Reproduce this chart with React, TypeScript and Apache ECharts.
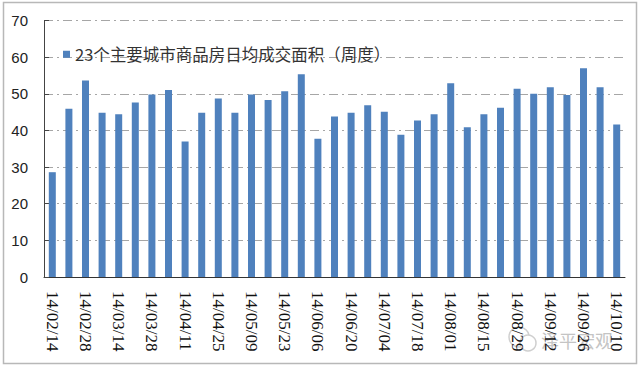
import React, { useEffect, useRef } from "react";
import * as echarts from "echarts";

const categories = [
  "14/02/14", "14/02/21", "14/02/28", "14/03/07", "14/03/14", "14/03/21", "14/03/28",
  "14/04/04", "14/04/11", "14/04/18", "14/04/25", "14/05/02", "14/05/09", "14/05/16",
  "14/05/23", "14/05/30", "14/06/06", "14/06/13", "14/06/20", "14/06/27", "14/07/04",
  "14/07/11", "14/07/18", "14/07/25", "14/08/01", "14/08/08", "14/08/15", "14/08/22",
  "14/08/29", "14/09/05", "14/09/12", "14/09/19", "14/09/26", "14/10/03", "14/10/10",
];

const seriesName = "23个主要城市商品房日均成交面积（周度）";
const values = [
  28.6, 45.9, 53.6, 44.8, 44.4, 47.6, 49.8, 51.0, 37.0, 44.8, 48.7, 44.8, 49.8, 48.3,
  50.7, 55.3, 37.7, 43.8, 44.8, 46.9, 45.1, 38.8, 42.7, 44.4, 52.9, 40.9, 44.4, 46.2,
  51.4, 50.0, 51.8, 49.7, 57.0, 51.8, 41.6,
];

const yTicks = { min: 0, max: 70, interval: 10 };
const watermark = "泽平宏观";

export default function App() {
  const ref = useRef<HTMLDivElement>(null);
  useEffect(() => {
    if (!ref.current) return;
    const chart = echarts.init(ref.current, null, { renderer: "svg" });
    chart.setOption({
      animation: false,
      backgroundColor: "#ffffff",
      grid: { left: 44, right: 15, top: 20.5, bottom: 93, containLabel: false },
      legend: {
        left: 58,
        top: 41,
        itemWidth: 7,
        itemHeight: 7,
        itemGap: 6,
        icon: "rect",
        textStyle: { fontFamily: "Noto Sans CJK SC", fontSize: 16.5, color: "#333" },
        data: [seriesName],
      },
      xAxis: {
        type: "category",
        data: categories,
        boundaryGap: true,
        axisLine: { lineStyle: { color: "#333", width: 1 } },
        axisTick: {
          inside: true,
          length: 5,
          interval: (i: number) => i % 2 === 1,
          lineStyle: { color: "#333" },
        },
        axisLabel: {
          interval: (i: number) => i % 2 === 0,
          rotate: -90,
          margin: 14,
          fontFamily: "Liberation Serif",
          fontSize: 17,
          color: "#111",
        },
        splitLine: { show: false },
      },
      yAxis: {
        type: "value",
        min: yTicks.min,
        max: yTicks.max,
        interval: yTicks.interval,
        axisLine: { show: true, lineStyle: { color: "#444" } },
        axisTick: { show: true, inside: true, length: 5, lineStyle: { color: "#444" } },
        axisLabel: {
          margin: 16,
          fontFamily: "Liberation Sans",
          fontSize: 15,
          color: "#222",
        },
        splitLine: {
          show: true,
          lineStyle: { color: "#a6a6a6", width: 1, type: [9, 4, 2, 4] },
        },
      },
      series: [
        {
          name: seriesName,
          type: "bar",
          data: values,
          barWidth: 7,
          itemStyle: { color: "#4F81BD" },
        },
      ],
      graphic: [
        {
          type: "rect",
          shape: { x: 3.5, y: 2.5, width: 633, height: 361 },
          style: { fill: "none", stroke: "#b8b8b8", lineWidth: 1.5 },
          silent: true,
          z: -1,
        },
        {
          type: "circle",
          shape: { cx: 519, cy: 337, r: 10 },
          style: { fill: "none", stroke: "#cfcfcf", lineWidth: 1.5 },
          silent: true,
        },
        {
          type: "circle",
          shape: { cx: 528, cy: 343, r: 8 },
          style: { fill: "#ffffff", stroke: "#cfcfcf", lineWidth: 1.5 },
          silent: true,
        },
        {
          type: "text",
          x: 541,
          y: 340,
          style: {
            text: watermark,
            fill: "#c4c4c4",
            font: "18px 'Noto Sans CJK SC'",
            textVerticalAlign: "middle",
          },
          silent: true,
        },
      ],
    });
    return () => chart.dispose();
  }, []);
  return (
    <div
      ref={ref}
      style={{ position: "fixed", left: 0, top: 0, width: 640, height: 370 }}
    />
  );
}
